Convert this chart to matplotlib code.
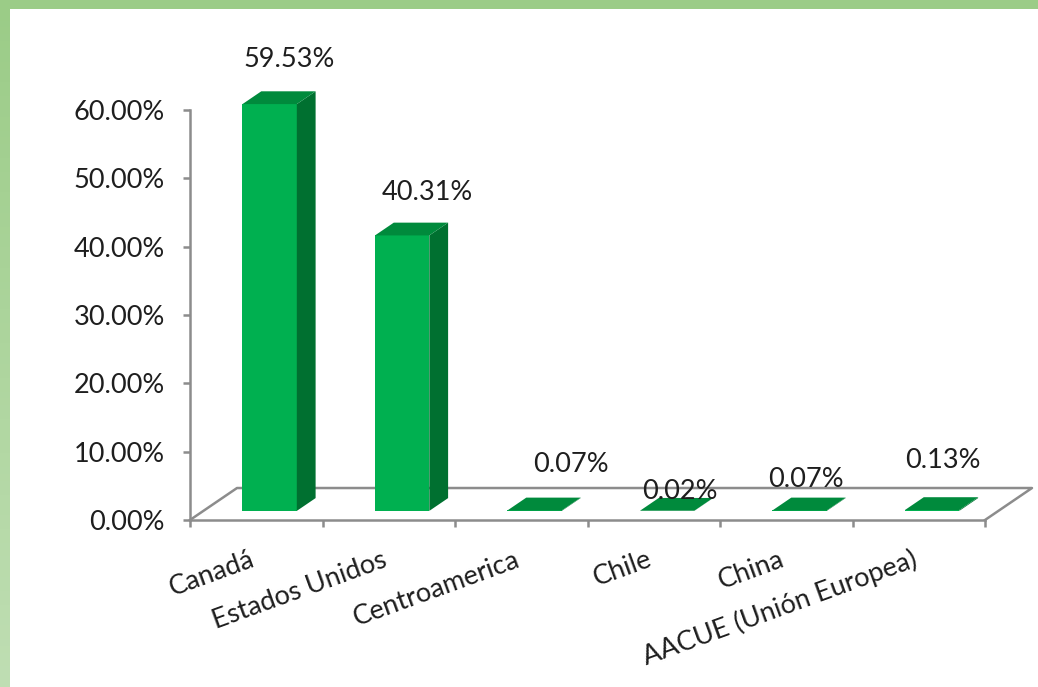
import numpy as np
import matplotlib
matplotlib.use('Agg')
import matplotlib.pyplot as plt
from matplotlib.patches import Polygon, Rectangle
from matplotlib.colors import LinearSegmentedColormap

plt.rcParams['font.family'] = ['Lato', 'DejaVu Sans']

# datos
paises = ['Canadá', 'Estados Unidos', 'Centroamerica', 'Chile', 'China',
          'AACUE (Unión Europea)']
valores = [59.53, 40.31, 0.07, 0.02, 0.07, 0.13]
etiquetas = ['59.53%', '40.31%', '0.07%', '0.02%', '0.07%', '0.13%']
yticks = [0, 10, 20, 30, 40, 50, 60]

# desplazamiento de las etiquetas (pixeles) respecto a la cara frontal
label_off = [(20, 45), (25, 43), (36, 46), (13, 19), (6, 31), (11, 49)]

W, H = 1038, 687
fs = 19.5
txt = '#1e1e1e'
fig = plt.figure(figsize=(W / 100, H / 100), dpi=100)
fig.patch.set_facecolor('white')

# marco verde
fig.patches.append(Rectangle((0, 1 - 9 / H), 1, 9 / H, transform=fig.transFigure,
                             facecolor='#9bcc87', edgecolor='none', zorder=0))
axg = fig.add_axes([0, 0, 10 / W, 1])
grad = np.linspace(0, 1, 100).reshape(-1, 1)
cm = LinearSegmentedColormap.from_list('g', ['#9bcc87', '#bfdeb3'])
axg.imshow(grad, aspect='auto', cmap=cm, extent=[0, 1, 0, 1], origin='upper')
axg.axis('off')

ax = fig.add_axes([190 / W, (H - 520) / H, (985 - 190) / W, (520 - 110) / H])
ax.set_xlim(0, 6)
ax.set_ylim(0, 60)
ax.patch.set_alpha(0)

gris = '#8c8c8c'
# profundidad (oblicua)
Dx, Dy = 0.3547, 4.68
fr = 0.285      # posicion de la cara frontal
dp = 0.40       # profundidad de la barra
bw = 0.41

# piso
ax.plot([0, Dx, 6 + Dx, 6], [0, Dy, Dy, 0], color=gris, lw=1.8, clip_on=False, zorder=1)

c_front = '#00b050'
c_side = '#007030'
c_top = '#008a3c'
for i, v in enumerate(valores):
    x0 = i + 0.5 - bw / 2 + fr * Dx
    x1 = x0 + bw
    y0 = fr * Dy
    y1 = y0 + v
    ddx, ddy = dp * Dx, dp * Dy
    front = Polygon([(x0, y0), (x1, y0), (x1, y1), (x0, y1)], closed=True,
                    facecolor=c_front, edgecolor='none', clip_on=False, zorder=3)
    side = Polygon([(x1, y0), (x1 + ddx, y0 + ddy), (x1 + ddx, y1 + ddy), (x1, y1)],
                   closed=True, facecolor=c_side, edgecolor='none', clip_on=False, zorder=3)
    top = Polygon([(x0, y1), (x1, y1), (x1 + ddx, y1 + ddy), (x0 + ddx, y1 + ddy)],
                  closed=True, facecolor=c_top, edgecolor='none', clip_on=False, zorder=3)
    for p in (front, side, top):
        ax.add_patch(p)
    ax.annotate(etiquetas[i], xy=((x0 + x1) / 2, y1), xytext=label_off[i],
                textcoords='offset pixels', ha='center', va='center',
                fontsize=fs, color=txt, zorder=5, annotation_clip=False)

# ejes
for s in ['top', 'right']:
    ax.spines[s].set_visible(False)
for s in ['left', 'bottom']:
    ax.spines[s].set_color(gris)
    ax.spines[s].set_linewidth(1.8)
    ax.spines[s].set_zorder(1)

ax.set_yticks(yticks)
ax.set_yticklabels([f'{v:.2f}%' for v in yticks])
ax.tick_params(axis='y', direction='out', length=5, width=1.8, color=gris,
               labelsize=fs, labelcolor=txt, pad=13)

ax.set_xticks(range(7))
ax.set_xticklabels([])
ax.tick_params(axis='x', which='major', direction='out', length=5, width=1.8, color=gris)
ax.set_xticks(np.arange(6) + 0.5, minor=True)
ax.set_xticklabels(paises, minor=True)
ax.tick_params(axis='x', which='minor', length=0, pad=33, labelsize=fs,
               labelcolor=txt)
for lab in ax.get_xticklabels(minor=True):
    lab.set_rotation(20)
    lab.set_ha('right')
    lab.set_va('baseline')
    lab.set_rotation_mode('anchor')

fig.savefig('out.png', dpi=100)
